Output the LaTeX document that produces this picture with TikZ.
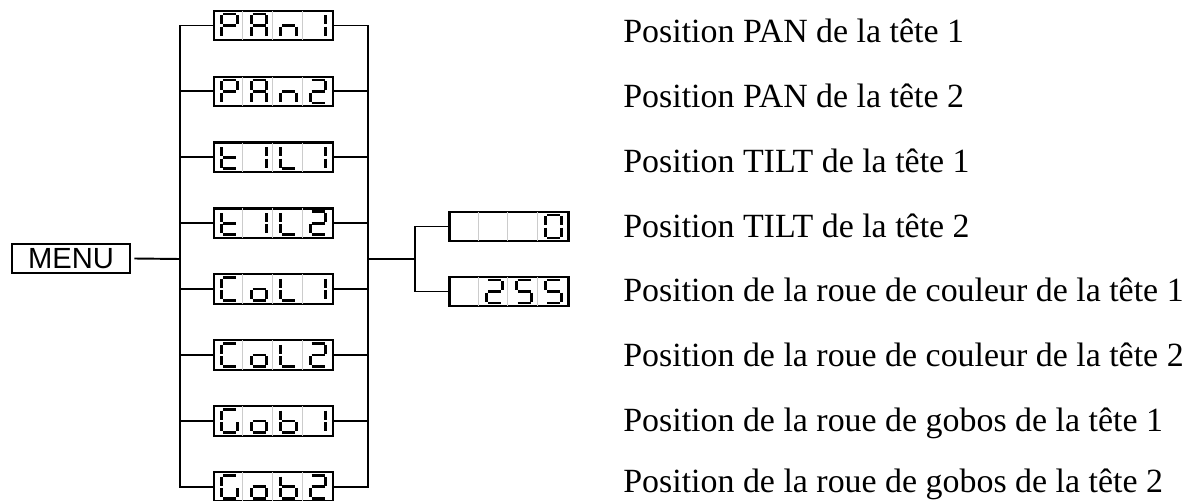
\documentclass[tikz,border=0pt]{standalone}
\usepackage{fontspec}
\setmainfont{Liberation Serif}
\newfontfamily\menufont{Liberation Sans}
\usepackage{tikz}

%Display segments (a top, b top right, c bottom right, d bottom, e bottom left, f top left, g middle)
\def\lcdsega{(-6.5,-11.5)--(6.5,-11.5)}
\def\lcdsegb{(7.8,-10.2)--(7.8,-1.2)}
\def\lcdsegc{(7.8,1.2)--(7.8,10.2)}
\def\lcdsegd{(-6.5,11.5)--(6.5,11.5)}
\def\lcdsege{(-7.8,1.2)--(-7.8,10.2)}
\def\lcdsegf{(-7.8,-10.2)--(-7.8,-1.2)}
\def\lcdsegg{(-6.5,0)--(6.5,0)}
\def\lcdsegx{}
%Display characters
\def\chblank{x}
\def\chP{a,b,e,f,g}
\def\chA{a,b,c,e,f,g}
\def\chn{c,e,g}
\def\chone{b,c}
\def\chtwo{a,b,d,e,g}
\def\cht{d,e,f,g}
\def\chL{d,e,f}
\def\chC{a,d,e,f}
\def\cho{c,d,e,g}
\def\chG{a,c,d,e,f}
\def\chb{c,d,e,f,g}
\def\chzero{a,b,c,d,e,f}
\def\chfive{a,c,d,f,g}

\newcommand{\lcddigit}[3]{%
\begin{scope}[shift={(#1)},shift={(#2,0)}]
\foreach \s in #3 {\expandafter\let\expandafter\segpath\csname lcdseg\s\endcsname
\draw[segline] \segpath;}
\end{scope}}
\newcommand{\lcdchars}[5]{%
\foreach \k in {1,2,3}
\draw[sepline] ([xshift=\k*0.595cm]#1.north west) -- ([xshift=\k*0.595cm]#1.south west);
\lcddigit{#1}{-44}{#2}\lcddigit{#1}{-14.5}{#3}\lcddigit{#1}{15}{#4}\lcddigit{#1}{44.5}{#5}}

\tikzset{
lcd/.style={draw=black,line width=1.3pt,minimum width=2.38cm,minimum height=0.59cm,inner sep=0pt},
menubox/.style={draw=black,line width=1.1pt,minimum width=2.36cm,minimum height=0.58cm,inner sep=0pt,font=\menufont\fontsize{16.6}{19}\selectfont},
segline/.style={line width=1.5pt},
sepline/.style={gray!40,line width=0.6pt,shorten <=0.65pt,shorten >=0.65pt},
wire/.style={line width=1.1pt},
desc/.style={anchor=base west,inner sep=0pt,font=\fontsize{19.3}{23}\selectfont}
}

\begin{document}
\begin{tikzpicture}[x=0.02cm,y=-0.02cm]
\useasboundingbox (0,0) rectangle (1192,500);
%Node Coordinates
\node at (71,258.5) [menubox] (Menu) {MENU};
\node at (273.5,25.5) [lcd] (Box1) {};
\node at (273.5,91.4) [lcd] (Box2) {};
\node at (273.5,157.3) [lcd] (Box3) {};
\node at (273.5,223.2) [lcd] (Box4) {};
\node at (273.5,289.1) [lcd] (Box5) {};
\node at (273.5,355) [lcd] (Box6) {};
\node at (273.5,420.9) [lcd] (Box7) {};
\node at (273.5,486.8) [lcd] (Box8) {};
\node at (509,226.5) [lcd] (Val1) {};
\node at (509,291.5) [lcd] (Val2) {};
\coordinate (LeftBus) at (180,259);
\coordinate (RightBus) at (368,259);
\coordinate (ValBus) at (415,259);
%Display Characters
\lcdchars{Box1}{\chP}{\chA}{\chn}{\chone}
\lcdchars{Box2}{\chP}{\chA}{\chn}{\chtwo}
\lcdchars{Box3}{\cht}{\chone}{\chL}{\chone}
\lcdchars{Box4}{\cht}{\chone}{\chL}{\chtwo}
\lcdchars{Box5}{\chC}{\cho}{\chL}{\chone}
\lcdchars{Box6}{\chC}{\cho}{\chL}{\chtwo}
\lcdchars{Box7}{\chG}{\cho}{\chb}{\chone}
\lcdchars{Box8}{\chG}{\cho}{\chb}{\chtwo}
\lcdchars{Val1}{\chblank}{\chblank}{\chblank}{\chzero}
\lcdchars{Val2}{\chblank}{\chtwo}{\chfive}{\chfive}
%connections
\draw [wire] ([xshift=2pt]Menu.east) -- (LeftBus);
\draw [wire] (Box1.west) -| (LeftBus) |- (Box8.west);
\draw [wire] (Box1.east) -| (RightBus) |- (Box8.east);
\foreach \i in {2,...,7} {
\draw [wire] (Box\i.west) -- (Box\i.west -| LeftBus);
\draw [wire] (Box\i.east) -- (Box\i.east -| RightBus);
}
\draw [wire] (RightBus) -- (ValBus);
\draw [wire] (Val1.west) -| (ValBus) |- (Val2.west);
% Descriptions
\node at (623,42.7) [desc] (Desc1) {Position PAN de la tête 1};
\node at (623,107.5) [desc] (Desc2) {Position PAN de la tête 2};
\node at (623,172.3) [desc] (Desc3) {Position TILT de la tête 1};
\node at (623,237.1) [desc] (Desc4) {Position TILT de la tête 2};
\node at (623,301.9) [desc] (Desc5) {Position de la roue de couleur de la tête 1};
\node at (623,366.7) [desc] (Desc6) {Position de la roue de couleur de la tête 2};
\node at (623,431.5) [desc] (Desc7) {Position de la roue de gobos de la tête 1};
\node at (623,492) [desc] (Desc8) {Position de la roue de gobos de la tête 2};

\end{tikzpicture}
\end{document}
